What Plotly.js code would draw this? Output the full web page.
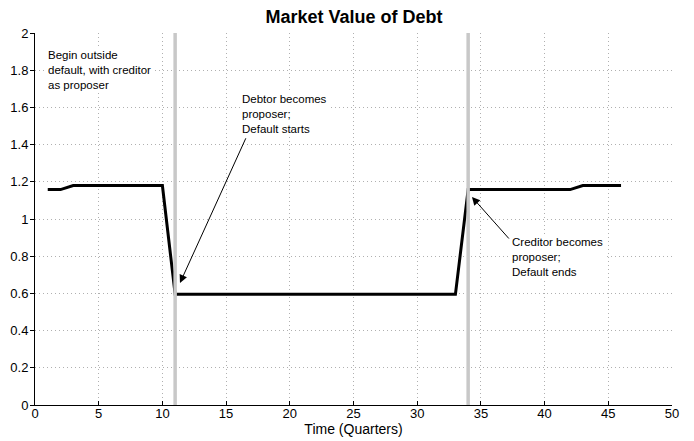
<!DOCTYPE html>
<html>
<head>
<meta charset="utf-8">
<script src="https://cdn.plot.ly/plotly-3.0.1.min.js"></script>
<style>
html,body{margin:0;padding:0;background:#fff;}
#chart{width:694px;height:441px;}
</style>
</head>
<body>
<div id="chart"></div>
<script>
// Data
const timeQuarters = [1,2,3,4,5,6,7,8,9,10,11,12,13,14,15,16,17,18,19,20,21,22,23,24,25,26,27,28,29,30,31,32,33,34,35,36,37,38,39,40,41,42,43,44,45,46];
const debtValue = [
  1.158,1.158,1.18,1.18,1.18,1.18,1.18,1.18,1.18,1.18,
  0.595,0.595,0.595,0.595,0.595,0.595,0.595,0.595,0.595,0.595,
  0.595,0.595,0.595,0.595,0.595,0.595,0.595,0.595,0.595,0.595,
  0.595,0.595,0.595,
  1.158,1.158,1.158,1.158,1.158,1.158,1.158,1.158,1.158,
  1.18,1.18,1.18,1.18
];
const proposerSwitchTimes = [11, 34];
const switchLineSpan = [0, 2];
const xTicks = [0,5,10,15,20,25,30,35,40,45,50];
const yTicks = [0,0.2,0.4,0.6,0.8,1,1.2,1.4,1.6,1.8,2];
const yTickLabels = ['0','0.2','0.4','0.6','0.8','1','1.2','1.4','1.6','1.8','2'];

const FONT = '"Liberation Sans", Arial, Helvetica, sans-serif';

const traces = [
  {
    x: timeQuarters, y: debtValue, type: 'scatter', mode: 'lines',
    line: {color: '#000', width: 3}, hoverinfo: 'skip', showlegend: false
  }
];
proposerSwitchTimes.forEach(t => {
  traces.push({
    x: [t, t], y: switchLineSpan, type: 'scatter', mode: 'lines',
    line: {color: '#c8c8c8', width: 3.5}, hoverinfo: 'skip', showlegend: false
  });
});

const annFont = {family: FONT, size: 11.5, color: '#000'};
const layout = {
  width: 694, height: 441,
  margin: {l: 35, r: 22, t: 33, b: 36},
  paper_bgcolor: '#fff', plot_bgcolor: '#fff',
  font: {family: FONT, size: 13, color: '#000'},
  title: {text: '<b>Market Value of Debt</b>', font: {family: FONT, size: 18, color: '#000'},
          x: 0.51, xanchor: 'center', y: 0.962, yanchor: 'middle'},
  xaxis: {
    range: [0, 50], tickvals: xTicks, ticktext: xTicks.map(String),
    showline: true, linecolor: '#000', linewidth: 1, mirror: false,
    ticks: 'inside', ticklen: 4, tickcolor: '#000', ticklabelstandoff: -4,
    showgrid: true, gridcolor: '#b0b0b0', griddash: '1px,3px', gridwidth: 1,
    zeroline: false, tickfont: {family: FONT, size: 13},
    title: {text: 'Time (Quarters)', font: {family: FONT, size: 14}, standoff: 0}
  },
  yaxis: {
    range: [0, 2], tickvals: yTicks, ticktext: yTickLabels,
    showline: true, linecolor: '#000', linewidth: 1, mirror: false,
    ticks: 'outside', ticklen: 4, tickcolor: '#000', ticklabelstandoff: -1,
    showgrid: true, gridcolor: '#b0b0b0', griddash: '1px,3px', gridwidth: 1,
    zeroline: false, tickfont: {family: FONT, size: 13}
  },
  annotations: [
    {x: 0.85, y: 1.8, xref: 'x', yref: 'y', xanchor: 'left', yanchor: 'middle', align: 'left',
     text: 'Begin outside<br>default, with creditor<br>as proposer', showarrow: false,
     font: annFont, bgcolor: '#fff', borderpad: 1},
    {x: 16.1, y: 1.565, xref: 'x', yref: 'y', xanchor: 'left', yanchor: 'middle', align: 'left',
     text: 'Debtor becomes<br>proposer;<br>Default starts', showarrow: false,
     font: annFont, bgcolor: '#fff', borderpad: 1},
    {x: 37.3, y: 0.798, xref: 'x', yref: 'y', xanchor: 'left', yanchor: 'middle', align: 'left',
     text: 'Creditor becomes<br>proposer;<br>Default ends', showarrow: false,
     font: annFont, bgcolor: '#fff', borderpad: 1},
    {x: 11.38, y: 0.656, xref: 'x', yref: 'y', ax: 16.6, ay: 1.442, axref: 'x', ayref: 'y',
     text: '', showarrow: true, arrowhead: 2, arrowsize: 1.6, arrowwidth: 1, arrowcolor: '#000'},
    {x: 34.3, y: 1.118, xref: 'x', yref: 'y', ax: 37.3, ay: 0.887, axref: 'x', ayref: 'y',
     text: '', showarrow: true, arrowhead: 2, arrowsize: 1.6, arrowwidth: 1, arrowcolor: '#000'}
  ]
};

Plotly.newPlot('chart', traces, layout, {displayModeBar: false, staticPlot: true});
</script>
</body>
</html>
